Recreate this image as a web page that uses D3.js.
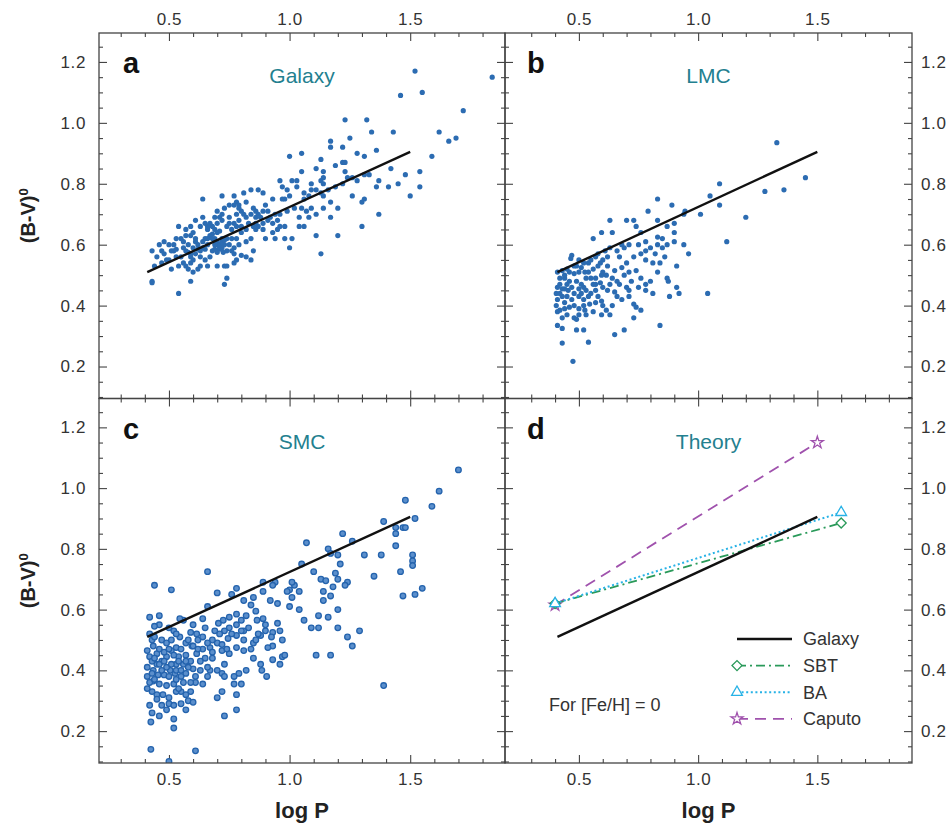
<!DOCTYPE html>
<html>
<head>
<meta charset="utf-8">
<script src="https://cdn.jsdelivr.net/npm/d3@7"></script>
<style>
  body { margin: 0; background: #fff; }
  text { font-family: "Liberation Sans", Arial, sans-serif; }
</style>
</head>
<body>
<script>
// Cepheid colour vs period: [log P, (B-V)0]
var galaxyStars = [
  [1.46,1.09],[1.55,1.10],[1.72,1.04],[1.52,1.17],[1.84,1.15],[1.23,1.01],[1.32,1.01],[1.34,0.97],[1.43,0.97],[1.62,0.97],
  [1.66,0.94],[1.69,0.95],[1.25,0.95],[1.17,0.94],[1.17,0.92],[1.22,0.92],[1.28,0.90],[1.36,0.91],[1.05,0.90],[1.00,0.89],
  [1.13,0.88],[1.19,0.86],[1.22,0.87],[1.23,0.87],[1.31,0.89],[1.59,0.89],[1.42,0.85],[1.05,0.84],[1.11,0.85],[1.14,0.84],
  [1.23,0.84],[1.54,0.84],[1.48,0.83],[1.45,0.80],[1.41,0.79],[1.37,0.81],[1.36,0.79],[1.54,0.79],[1.50,0.76],[1.14,0.82],
  [1.26,0.82],[1.31,0.83],[1.09,0.80],[1.16,0.78],[1.26,0.76],[1.31,0.75],[1.30,0.74],[1.37,0.70],[1.30,0.66],[1.20,0.63],
  [1.13,0.57],[1.11,0.63],[1.20,0.72],[1.17,0.69],[1.14,0.72],[1.11,0.70],[1.09,0.72],[1.07,0.71],[1.05,0.72],[1.04,0.69],
  [1.08,0.69],[1.06,0.66],[1.04,0.66],[1.00,0.59],[1.01,0.62],[0.98,0.62],[0.94,0.62],[0.95,0.65],[0.98,0.66],[0.96,0.81],
  [0.97,0.79],[0.99,0.78],[1.01,0.81],[1.03,0.81],[1.03,0.79],[1.00,0.76],[0.98,0.75],[0.97,0.75],[0.93,0.75],[0.89,0.77],
  [0.87,0.78],[0.84,0.78],[0.81,0.77],[0.77,0.76],[0.72,0.76],[0.64,0.75],[0.70,0.71],[0.73,0.72],[0.78,0.74],[0.79,0.73],
  [0.82,0.74],[0.80,0.71],[0.75,0.69],[0.70,0.67],[0.68,0.66],[0.66,0.65],[0.63,0.66],[0.59,0.66],[0.54,0.66],[0.57,0.63],
  [0.52,0.60],[0.48,0.61],[0.46,0.60],[0.43,0.58],[0.51,0.58],[0.52,0.58],[0.49,0.55],[0.47,0.54],[0.43,0.48],[0.43,0.475],
  [0.54,0.44],[0.59,0.48],[0.60,0.51],[0.54,0.53],[0.57,0.53],[0.59,0.54],[0.63,0.56],[0.61,0.57],[0.59,0.57],[0.60,0.59],
  [0.64,0.59],[0.65,0.62],[0.67,0.63],[0.69,0.62],[0.70,0.64],[0.72,0.62],[0.74,0.62],[0.73,0.60],[0.71,0.59],[0.74,0.58],
  [0.77,0.59],[0.79,0.60],[0.82,0.61],[0.84,0.62],[0.86,0.65],[0.87,0.66],[0.89,0.67],[0.91,0.68],[0.88,0.69],[0.86,0.67],
  [0.85,0.66],[0.82,0.65],[0.80,0.64],[0.78,0.62],[0.76,0.65],[0.77,0.67],[0.79,0.68],[0.82,0.69],[0.84,0.70],[0.86,0.69],
  [0.86,0.71],[0.85,0.72],[0.89,0.71],[0.91,0.71],[0.93,0.67],[0.93,0.64],[0.96,0.66],[0.67,0.56],[0.66,0.53],[0.70,0.53],
  [0.73,0.53],[0.74,0.53],[0.77,0.54],[0.73,0.47],[0.74,0.49],[0.78,0.55],[0.82,0.56],[0.84,0.55],[0.85,0.58],[0.80,0.565],
  [0.63,0.53],[0.62,0.52],[0.56,0.54],[0.59,0.56],[0.53,0.56],[0.50,0.55],[0.64,0.61],[0.68,0.58],[0.70,0.60],[0.61,0.62],
  [0.59,0.63],[0.57,0.58],[0.55,0.56],[0.60,0.55],[0.66,0.66],[0.67,0.67],[0.69,0.69],[0.71,0.69],[0.75,0.73],[0.77,0.73],
  [0.79,0.72],[0.89,0.65],[0.90,0.62],[0.94,0.70],[0.96,0.70],[0.99,0.71],[1.02,0.72],[1.06,0.75],[1.06,0.77],[1.08,0.76],
  [1.11,0.78],[1.13,0.77],[1.14,0.76],[1.17,0.74],[1.19,0.79],[1.22,0.80],[1.24,0.82],[1.28,0.81],[1.33,0.83],[1.13,0.81],
  [1.14,0.80],[1.09,0.78],[0.70,0.61],[0.71,0.60],[0.72,0.61],[0.69,0.60],[0.68,0.62],[0.72,0.59],[0.66,0.60],[0.62,0.60],
  [0.63,0.58],[0.58,0.60],[0.56,0.61],[0.55,0.62],[0.60,0.64],[0.65,0.67],[0.76,0.62],[0.78,0.66],[0.80,0.66],[0.74,0.66],
  [0.69,0.65],[0.45,0.56],[0.48,0.57],[0.50,0.60],[0.53,0.62],[0.57,0.65],[0.61,0.68],[0.64,0.69],[0.78,0.70],[0.72,0.70],
  [0.71,0.585],[0.725,0.575],[0.70,0.575],[0.69,0.585],[0.73,0.615],[0.75,0.60],[0.76,0.58],[0.66,0.62],[0.65,0.585],[0.62,0.585],
  [0.58,0.575],[0.56,0.59],[0.53,0.585],[0.61,0.61],[0.68,0.635],[0.71,0.645],[0.75,0.67],[0.72,0.68],[0.81,0.70],[0.83,0.67],
  [0.87,0.70],[0.92,0.69],[0.95,0.68],[0.90,0.73],[0.47,0.58],[0.44,0.53],[0.51,0.52],[0.58,0.52],[0.65,0.55],[0.77,0.57]
];

var lmcStars = [
  [1.33,0.935],[1.45,0.82],[1.36,0.78],[1.28,0.775],[1.09,0.80],[1.05,0.76],[1.09,0.73],[1.20,0.69],[1.12,0.61],[1.04,0.44],
  [0.945,0.71],[1.01,0.70],[0.94,0.70],[0.89,0.73],[0.83,0.75],[0.79,0.71],[0.83,0.68],[0.73,0.68],[0.70,0.68],[0.63,0.68],
  [0.595,0.64],[0.64,0.64],[0.56,0.62],[0.74,0.66],[0.76,0.64],[0.78,0.61],[0.83,0.625],[0.85,0.62],[0.87,0.66],[0.90,0.67],
  [0.90,0.64],[0.90,0.61],[0.87,0.60],[0.85,0.59],[0.94,0.60],[0.96,0.57],[0.91,0.53],[0.91,0.46],[0.92,0.44],[0.88,0.43],
  [0.875,0.48],[0.87,0.49],[0.84,0.54],[0.81,0.54],[0.78,0.55],[0.83,0.51],[0.80,0.48],[0.78,0.47],[0.78,0.45],[0.81,0.44],
  [0.76,0.49],[0.74,0.515],[0.73,0.56],[0.71,0.60],[0.69,0.59],[0.66,0.58],[0.63,0.59],[0.62,0.56],[0.60,0.55],[0.59,0.54],
  [0.57,0.56],[0.55,0.55],[0.52,0.54],[0.50,0.55],[0.49,0.53],[0.47,0.565],[0.466,0.555],[0.45,0.52],[0.43,0.515],[0.41,0.51],
  [0.42,0.49],[0.44,0.49],[0.46,0.48],[0.48,0.505],[0.50,0.51],[0.525,0.51],[0.54,0.51],[0.55,0.49],[0.57,0.49],[0.595,0.50],
  [0.615,0.50],[0.64,0.49],[0.66,0.48],[0.67,0.47],[0.70,0.46],[0.71,0.45],[0.71,0.43],[0.73,0.405],[0.74,0.395],[0.76,0.385],
  [0.73,0.36],[0.68,0.42],[0.65,0.445],[0.62,0.45],[0.60,0.46],[0.57,0.45],[0.55,0.44],[0.54,0.43],[0.52,0.42],[0.50,0.43],
  [0.48,0.44],[0.455,0.45],[0.43,0.455],[0.41,0.46],[0.405,0.44],[0.41,0.42],[0.405,0.40],[0.42,0.385],[0.44,0.39],[0.46,0.395],
  [0.48,0.40],[0.50,0.39],[0.525,0.385],[0.545,0.405],[0.57,0.41],[0.595,0.415],[0.615,0.385],[0.63,0.37],[0.595,0.37],[0.53,0.37],
  [0.50,0.37],[0.48,0.36],[0.49,0.355],[0.41,0.335],[0.43,0.325],[0.49,0.32],[0.52,0.32],[0.54,0.28],[0.43,0.277],[0.475,0.217],
  [0.65,0.305],[0.69,0.32],[0.84,0.335],[0.43,0.36],[0.45,0.43],[0.56,0.47],[0.52,0.46],[0.59,0.475],[0.65,0.515],[0.68,0.525],
  [0.70,0.54],[0.67,0.56],[0.76,0.57],[0.78,0.58],[0.80,0.59],[0.83,0.60],[0.71,0.51],[0.69,0.50],[0.42,0.47],[0.44,0.50],
  [0.46,0.51],[0.43,0.43],[0.45,0.47],[0.47,0.46],[0.49,0.48],[0.51,0.47],[0.53,0.49],[0.56,0.52],[0.58,0.53],[0.60,0.51],
  [0.62,0.53],[0.51,0.44],[0.53,0.45],[0.47,0.42],[0.44,0.41],[0.58,0.43],[0.60,0.40],[0.56,0.38],[0.45,0.37],[0.41,0.38],
  [0.52,0.40],[0.66,0.43],[0.64,0.40],[0.48,0.53],[0.51,0.525],[0.54,0.54],[0.58,0.57],[0.61,0.58],[0.68,0.60],[0.75,0.60],
  [0.82,0.57],[0.86,0.56],[0.72,0.48],[0.75,0.46],[0.63,0.47],[0.57,0.47],[0.42,0.44],[0.44,0.455],[0.50,0.455]
];

var smcStars = [
  [1.70,1.06],[1.62,0.99],[1.59,0.94],[1.48,0.96],[1.52,0.90],[1.39,0.89],[1.44,0.87],[1.47,0.87],[1.48,0.87],[1.44,0.85],
  [1.44,0.81],[1.51,0.78],[1.51,0.76],[1.51,0.745],[1.46,0.725],[1.55,0.67],[1.52,0.65],[1.47,0.645],[1.39,0.35],[1.35,0.71],
  [1.38,0.78],[1.31,0.78],[1.22,0.85],[1.26,0.825],[1.16,0.80],[1.17,0.785],[1.20,0.78],[1.21,0.75],[1.07,0.82],[1.05,0.75],
  [1.10,0.725],[1.13,0.70],[1.15,0.695],[1.19,0.72],[1.20,0.70],[1.18,0.675],[1.24,0.69],[1.23,0.68],[1.14,0.66],[1.14,0.63],
  [1.17,0.645],[1.20,0.60],[1.12,0.58],[1.16,0.575],[1.06,0.565],[1.09,0.54],[1.12,0.54],[1.20,0.54],[1.29,0.53],[1.24,0.51],
  [1.26,0.48],[1.11,0.45],[1.17,0.45],[1.02,0.68],[1.00,0.665],[1.04,0.66],[0.94,0.69],[1.01,0.69],[0.99,0.66],[0.93,0.68],
  [0.89,0.66],[0.95,0.62],[0.92,0.63],[1.00,0.61],[1.04,0.60],[1.01,0.64],[0.89,0.69],[0.78,0.67],[0.76,0.65],[0.70,0.655],
  [0.81,0.63],[0.85,0.64],[0.84,0.615],[0.89,0.57],[0.90,0.55],[0.95,0.555],[0.93,0.525],[0.96,0.53],[0.97,0.50],[0.93,0.48],
  [0.91,0.475],[0.88,0.515],[0.85,0.49],[0.81,0.53],[0.78,0.55],[0.75,0.54],[0.73,0.53],[0.71,0.52],[0.70,0.49],[0.72,0.465],
  [0.75,0.455],[0.78,0.475],[0.81,0.465],[0.84,0.47],[0.85,0.44],[0.88,0.42],[0.905,0.38],[0.885,0.40],[0.97,0.445],[0.98,0.45],
  [0.96,0.42],[0.93,0.435],[0.82,0.40],[0.79,0.39],[0.77,0.38],[0.80,0.355],[0.77,0.355],[0.73,0.42],[0.70,0.40],[0.72,0.39],
  [0.73,0.38],[0.67,0.40],[0.66,0.41],[0.66,0.38],[0.63,0.40],[0.64,0.355],[0.61,0.36],[0.59,0.33],[0.57,0.32],[0.58,0.30],
  [0.55,0.33],[0.53,0.33],[0.55,0.29],[0.50,0.29],[0.52,0.285],[0.49,0.27],[0.47,0.285],[0.45,0.32],[0.43,0.33],[0.41,0.34],
  [0.42,0.285],[0.43,0.26],[0.425,0.23],[0.46,0.25],[0.52,0.24],[0.52,0.21],[0.57,0.27],[0.60,0.295],[0.70,0.31],[0.72,0.33],
  [0.78,0.32],[0.78,0.27],[0.73,0.25],[0.425,0.14],[0.61,0.135],[0.50,0.10],[0.44,0.68],[0.51,0.665],[0.66,0.725],[0.66,0.61],
  [0.64,0.57],[0.60,0.55],[0.56,0.565],[0.545,0.57],[0.59,0.525],[0.615,0.52],[0.65,0.54],[0.68,0.50],[0.67,0.475],[0.64,0.47],
  [0.615,0.455],[0.595,0.48],[0.57,0.49],[0.545,0.51],[0.52,0.53],[0.50,0.54],[0.46,0.55],[0.44,0.545],[0.42,0.575],[0.46,0.58],
  [0.43,0.50],[0.435,0.48],[0.41,0.465],[0.42,0.445],[0.45,0.455],[0.47,0.43],[0.49,0.445],[0.51,0.465],[0.53,0.475],[0.54,0.445],
  [0.56,0.42],[0.59,0.43],[0.60,0.405],[0.57,0.39],[0.55,0.38],[0.525,0.39],[0.505,0.40],[0.48,0.385],[0.455,0.385],[0.435,0.40],
  [0.41,0.41],[0.41,0.38],[0.435,0.365],[0.46,0.355],[0.49,0.35],[0.52,0.355],[0.54,0.34],[0.475,0.32],[0.50,0.31],[0.45,0.305],
  [0.53,0.42],[0.49,0.41],[0.45,0.42],[0.43,0.43],[0.65,0.44],[0.68,0.44],[0.705,0.555],[0.725,0.565],[0.75,0.575],[0.78,0.585],
  [0.80,0.565],[0.82,0.58],[0.86,0.595],[0.865,0.565],[0.87,0.52],[0.90,0.53],[0.925,0.51],[0.78,0.515],[0.745,0.505],[0.81,0.50],
  [0.72,0.485],[0.42,0.52],[0.44,0.51],[0.47,0.50],[0.49,0.49],[0.51,0.50],[0.53,0.52],[0.55,0.47],[0.57,0.45],[0.58,0.41],
  [0.56,0.36],[0.53,0.37],[0.50,0.38],[0.47,0.40],[0.44,0.44],[0.46,0.47],[0.48,0.46],[0.50,0.47],[0.52,0.45],[0.54,0.43],
  [0.58,0.50],[0.60,0.48],[0.62,0.50],[0.63,0.43],[0.61,0.38],[0.59,0.36],[0.43,0.39],[0.42,0.36],[0.44,0.37],[0.46,0.42],
  [0.48,0.43],[0.51,0.42],[0.53,0.40],[0.55,0.40],[0.57,0.43],[0.62,0.47],[0.64,0.51],[0.66,0.49],[0.68,0.46],[0.69,0.53],
  [0.74,0.47],[0.76,0.52],[0.80,0.53],[0.83,0.54],[0.86,0.50]
];

// Galactic period-colour relation and the three theoretical models
var galaxyFit = [[0.41,0.51],[1.5,0.905]];
var sbtModel = [[0.4,0.62],[1.6,0.885]];
var baModel = [[0.4,0.62],[1.6,0.92]];
var caputoModel = [[0.4,0.615],[1.5,1.15]];

var xTicks = [0.5, 1.0, 1.5];
var yTicks = [0.2, 0.4, 0.6, 0.8, 1.0, 1.2];
var panelLetters = ['a', 'b', 'c', 'd'];
var panelNames = ['Galaxy', 'LMC', 'SMC', 'Theory'];
var legendNames = ['Galaxy', 'SBT', 'BA', 'Caputo'];

var width = 950, height = 832;
var colX = [[99, 505], [505, 912]];
var xDomains = [[0.21, 1.893], [0.19, 1.897]];
var rowY = [[33, 398.5], [398.5, 763]];
var yDomain = [0.095, 1.295];

var xMinor = d3.range(0.3, 1.85, 0.1).filter(function(v){ return Math.abs(v*2 - Math.round(v*2)) > 0.01; });
var yMinor = d3.range(0.1, 1.29, 0.05).filter(function(v){ return Math.abs(v*5 - Math.round(v*5)) > 0.01; });

var dotBlue = '#2c6cb2';
var teal = '#23808f';
var styles = {
  Galaxy: { color: '#111', dash: null, width: 2.4, symbol: null },
  SBT: { color: '#2a9a5a', dash: '9,4,2,4', width: 1.8, symbol: 'diamond' },
  BA: { color: '#27b2e6', dash: '2,2.6', width: 2, symbol: 'triangle' },
  Caputo: { color: '#a052ad', dash: '11,7', width: 1.8, symbol: 'star' }
};

var svg = d3.select('body').append('svg')
  .attr('width', width)
  .attr('height', height);

var fmt = d3.format('.1f');

function markerPath(kind) {
  if (kind === 'diamond') return d3.symbol().type(d3.symbolSquare).size(50)();
  if (kind === 'triangle') return d3.symbol().type(d3.symbolTriangle).size(50)();
  return d3.symbol().type(d3.symbolStar).size(45)();
}

function styleAxis(g) {
  g.select('.domain').remove();
  g.selectAll('line').attr('stroke', '#444').attr('stroke-width', 1.1);
  g.selectAll('text')
    .attr('fill', '#333')
    .style('font-size', '17px')
    .style('letter-spacing', '0.6px');
}

function drawPanel(i) {
  var col = i % 2, row = Math.floor(i / 2);
  var x = d3.scaleLinear().domain(xDomains[col]).range(colX[col]);
  var y = d3.scaleLinear().domain(yDomain).range([rowY[row][1], rowY[row][0]]);
  var x0 = colX[col][0], x1 = colX[col][1];
  var y0 = rowY[row][0], y1 = rowY[row][1];

  var g = svg.append('g');

  g.append('clipPath').attr('id', 'clip' + i)
    .append('rect')
    .attr('x', x0).attr('y', y0)
    .attr('width', x1 - x0).attr('height', y1 - y0);

  // inward ticks on all four sides
  var b = g.append('g').attr('transform', 'translate(0,' + y1 + ')')
    .call(d3.axisBottom(x).tickValues(xTicks).tickSize(-8).tickSizeOuter(0).tickPadding(10)
      .tickFormat(row === 1 ? fmt : function(){ return ''; }));
  styleAxis(b);
  styleAxis(g.append('g').attr('transform', 'translate(0,' + y1 + ')')
    .call(d3.axisBottom(x).tickValues(xMinor).tickSize(-4).tickSizeOuter(0).tickFormat('')));

  var t = g.append('g').attr('transform', 'translate(0,' + y0 + ')')
    .call(d3.axisTop(x).tickValues(xTicks).tickSize(-8).tickSizeOuter(0).tickPadding(8)
      .tickFormat(row === 0 ? fmt : function(){ return ''; }));
  styleAxis(t);
  styleAxis(g.append('g').attr('transform', 'translate(0,' + y0 + ')')
    .call(d3.axisTop(x).tickValues(xMinor).tickSize(-4).tickSizeOuter(0).tickFormat('')));

  var l = g.append('g').attr('transform', 'translate(' + x0 + ',0)')
    .call(d3.axisLeft(y).tickValues(yTicks).tickSize(-8).tickSizeOuter(0).tickPadding(13)
      .tickFormat(col === 0 ? fmt : function(){ return ''; }));
  styleAxis(l);
  styleAxis(g.append('g').attr('transform', 'translate(' + x0 + ',0)')
    .call(d3.axisLeft(y).tickValues(yMinor).tickSize(-4).tickSizeOuter(0).tickFormat('')));

  var r = g.append('g').attr('transform', 'translate(' + x1 + ',0)')
    .call(d3.axisRight(y).tickValues(yTicks).tickSize(-8).tickSizeOuter(0).tickPadding(9)
      .tickFormat(col === 1 ? fmt : function(){ return ''; }));
  styleAxis(r);
  styleAxis(g.append('g').attr('transform', 'translate(' + x1 + ',0)')
    .call(d3.axisRight(y).tickValues(yMinor).tickSize(-4).tickSizeOuter(0).tickFormat('')));

  var plot = g.append('g').attr('clip-path', 'url(#clip' + i + ')');

  var line = d3.line()
    .x(function(d){ return x(d[0]); })
    .y(function(d){ return y(d[1]); });

  if (i === 0 || i === 1) {
    var stars = i === 0 ? galaxyStars : lmcStars;
    plot.selectAll('circle.star').data(stars).enter()
      .append('circle').attr('class', 'star')
      .attr('cx', function(d){ return x(d[0]); })
      .attr('cy', function(d){ return y(d[1]); })
      .attr('r', 2.6)
      .attr('fill', dotBlue);
  }
  if (i === 2) {
    plot.selectAll('circle.star').data(smcStars).enter()
      .append('circle').attr('class', 'star')
      .attr('cx', function(d){ return x(d[0]); })
      .attr('cy', function(d){ return y(d[1]); })
      .attr('r', 2.8)
      .attr('fill', '#5b8fcc')
      .attr('stroke', '#2463ad')
      .attr('stroke-width', 1.3);
  }

  if (i === 3) {
    var models = [['Caputo', caputoModel], ['SBT', sbtModel], ['BA', baModel]];
    models.forEach(function(m){
      var s = styles[m[0]];
      plot.append('path').datum(m[1])
        .attr('d', line)
        .attr('fill', 'none')
        .attr('stroke', s.color)
        .attr('stroke-width', s.width)
        .attr('stroke-dasharray', s.dash);
    });
    models.forEach(function(m){
      var s = styles[m[0]];
      plot.selectAll(null).data(m[1]).enter()
        .append('path')
        .attr('d', markerPath(s.symbol))
        .attr('transform', function(d){
          return 'translate(' + x(d[0]) + ',' + y(d[1]) + ')' + (s.symbol === 'diamond' ? ' rotate(45)' : '');
        })
        .attr('fill', 'white')
        .attr('stroke', s.color)
        .attr('stroke-width', 1.3);
    });
  }

  plot.append('path').datum(galaxyFit)
    .attr('d', line)
    .attr('fill', 'none')
    .attr('stroke', '#111')
    .attr('stroke-width', 2.4);

  // frame
  g.append('rect')
    .attr('x', x0).attr('y', y0)
    .attr('width', x1 - x0).attr('height', y1 - y0)
    .attr('fill', 'none')
    .attr('stroke', '#444')
    .attr('stroke-width', 1.3);

  g.append('text')
    .attr('x', x0 + (col === 0 ? 24 : 22))
    .attr('y', y0 + 40)
    .attr('font-size', '29px')
    .attr('font-weight', 'bold')
    .attr('fill', '#111')
    .text(panelLetters[i]);

  g.append('text')
    .attr('x', (x0 + x1) / 2)
    .attr('y', y0 + 50)
    .attr('text-anchor', 'middle')
    .attr('font-size', '21px')
    .attr('fill', teal)
    .text(panelNames[i]);

  if (i === 3) {
    var lg = g.append('g');
    var rows = lg.selectAll('g').data(legendNames).enter().append('g')
      .attr('transform', function(d, k){ return 'translate(737,' + (639 + k * 26.6) + ')'; });
    rows.append('line')
      .attr('x1', 0).attr('x2', 55).attr('y1', 0).attr('y2', 0)
      .attr('stroke', function(d){ return styles[d].color; })
      .attr('stroke-width', function(d){ return styles[d].width; })
      .attr('stroke-dasharray', function(d){ return styles[d].dash; });
    rows.filter(function(d){ return styles[d].symbol; })
      .append('path')
      .attr('d', function(d){ return markerPath(styles[d].symbol); })
      .attr('transform', function(d){ return styles[d].symbol === 'diamond' ? 'rotate(45)' : null; })
      .attr('fill', 'white')
      .attr('stroke', function(d){ return styles[d].color; })
      .attr('stroke-width', 1.3);
    rows.append('text')
      .attr('x', 66).attr('y', 0).attr('dy', '0.35em')
      .attr('font-size', '18px')
      .attr('fill', '#333')
      .text(function(d){ return d; });

    g.append('text')
      .attr('x', 549).attr('y', 705).attr('dy', '0.35em')
      .attr('font-size', '18px')
      .attr('fill', '#333')
      .text('For [Fe/H] = 0');
  }
}

d3.range(4).forEach(drawPanel);

// axis titles
[0, 1].forEach(function(row){
  var cy = (rowY[row][0] + rowY[row][1]) / 2;
  var t = svg.append('text')
    .attr('transform', 'translate(35,' + cy + ') rotate(-90)')
    .attr('text-anchor', 'middle')
    .attr('font-size', '20px')
    .attr('font-weight', 'bold')
    .attr('fill', '#222');
  t.append('tspan').text('(B-V)');
  t.append('tspan').attr('font-size', '13px').attr('dy', '-7').text('0');
});
[0, 1].forEach(function(col){
  svg.append('text')
    .attr('x', (colX[col][0] + colX[col][1]) / 2)
    .attr('y', 818)
    .attr('text-anchor', 'middle')
    .attr('font-size', '22px')
    .attr('font-weight', 'bold')
    .attr('fill', '#222')
    .text('log P');
});
</script>
</body>
</html>
